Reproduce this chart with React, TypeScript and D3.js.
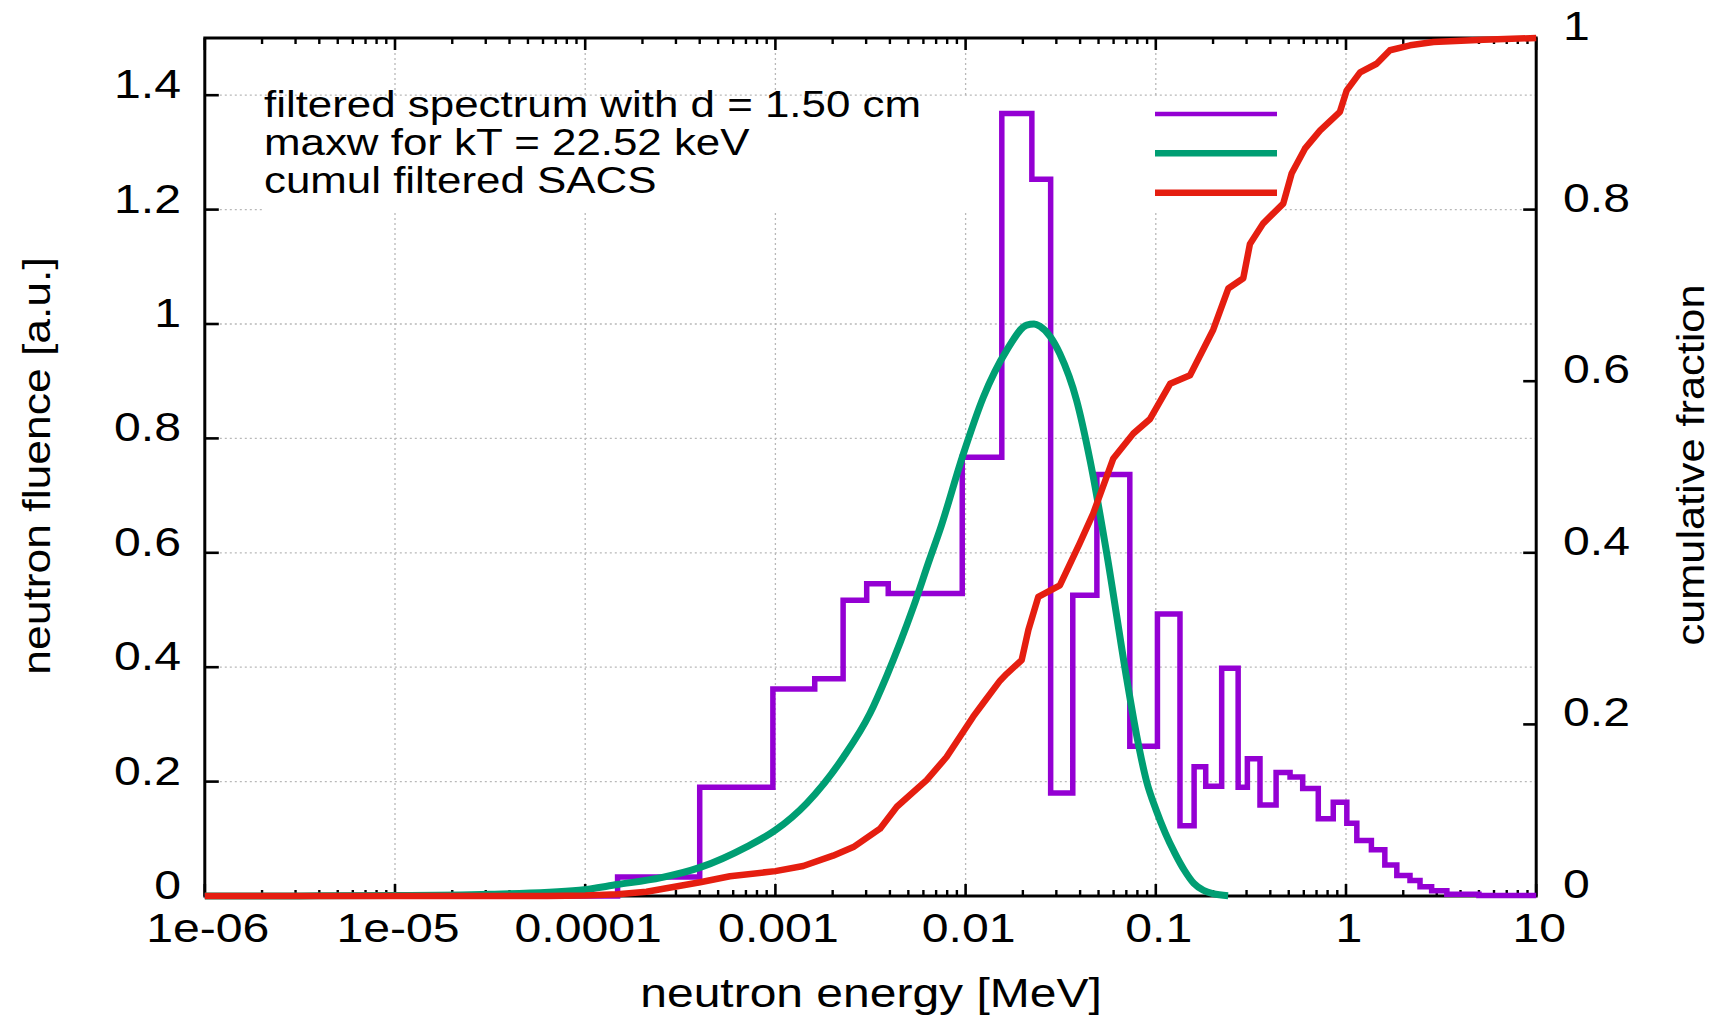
import React from "react";
import * as d3 from "d3";

// ---------- data ----------
// filtered spectrum: histogram bin edges [MeV] and fluence [a.u.]
const binEdges = [1e-6, 1.48e-4, 4.0e-4, 9.7e-4, 1.61e-3, 2.27e-3, 3.02e-3, 3.92e-3, 9.6e-3, 0.0155, 0.0223, 0.028, 0.0366, 0.049, 0.073, 0.102, 0.134, 0.159, 0.183, 0.222, 0.271, 0.303, 0.353, 0.429, 0.508, 0.592, 0.715, 0.857, 1.01, 1.14, 1.36, 1.6, 1.85, 2.17, 2.45, 2.82, 3.39, 5.0, 10];
const fluence = [0, 0.033, 0.19, 0.362, 0.38, 0.517, 0.546, 0.529, 0.767, 1.368, 1.253, 0.18, 0.526, 0.737, 0.262, 0.493, 0.123, 0.226, 0.192, 0.398, 0.19, 0.24, 0.159, 0.216, 0.208, 0.188, 0.135, 0.164, 0.127, 0.097, 0.081, 0.054, 0.036, 0.027, 0.016, 0.009, 0.003, 0.001];

// maxwellian for kT = 22.52 keV
const maxwE = [1e-6, 3.16e-6, 1e-5, 3.16e-5, 9.3e-5, 1.48e-4, 2.51e-4, 4.02e-4, 7.06e-4, 1.0e-3, 1.46e-3, 2.28e-3, 3.14e-3, 3.85e-3, 5.31e-3, 6.49e-3, 7.33e-3, 9.73e-3, 0.01239, 0.01644, 0.02094, 0.0229, 0.0246, 0.0313, 0.0383, 0.0451, 0.0552, 0.0703, 0.0794, 0.0895, 0.1005, 0.1122, 0.1259, 0.1413, 0.1585, 0.1778, 0.1995, 0.24];
const maxwVal = [0, 0.0002, 0.0007, 0.003, 0.01, 0.02, 0.032, 0.05, 0.086, 0.115, 0.162, 0.243, 0.319, 0.385, 0.505, 0.59, 0.64, 0.773, 0.872, 0.954, 0.998, 1.0, 0.996, 0.948, 0.867, 0.762, 0.599, 0.38, 0.28, 0.2, 0.15, 0.11, 0.075, 0.045, 0.022, 0.01, 0.004, 0.0005];

// cumulative filtered SACS (right axis)
const cumulE = [1e-6, 6.31e-5, 1e-4, 1.48e-4, 2.1e-4, 4.02e-4, 5.77e-4, 1.0e-3, 1.4e-3, 2.01e-3, 2.57e-3, 3.55e-3, 4.35e-3, 6.24e-3, 7.94e-3, 0.01096, 0.01239, 0.01517, 0.01644, 0.01972, 0.02138, 0.0241, 0.0313, 0.0398, 0.0469, 0.0598, 0.0762, 0.0933, 0.1189, 0.1514, 0.2004, 0.2404, 0.2884, 0.3126, 0.3673, 0.4677, 0.5176, 0.6081, 0.7295, 0.929, 1.009, 1.186, 1.449, 1.702, 2.173, 2.884, 5.27, 10];
const cumulVal = [0, 0, 0.0005, 0.002, 0.005, 0.016, 0.023, 0.029, 0.035, 0.047, 0.057, 0.0785, 0.104, 0.135, 0.162, 0.209, 0.225, 0.251, 0.259, 0.275, 0.31, 0.3485, 0.362, 0.411, 0.446, 0.51, 0.539, 0.556, 0.597, 0.607, 0.66, 0.708, 0.72, 0.76, 0.784, 0.807, 0.842, 0.871, 0.892, 0.914, 0.939, 0.96, 0.97, 0.9857, 0.9915, 0.9953, 0.998, 1.0];

const xTickValues = [1e-6, 1e-5, 1e-4, 1e-3, 1e-2, 1e-1, 1, 10];
const xTickLabels = ["1e-06", "1e-05", "0.0001", "0.001", "0.01", "0.1", "1", "10"];
const yTickValues = [0, 0.2, 0.4, 0.6, 0.8, 1, 1.2, 1.4];
const yTickLabels = ["0", "0.2", "0.4", "0.6", "0.8", "1", "1.2", "1.4"];
const y2TickValues = [0, 0.2, 0.4, 0.6, 0.8, 1];
const y2TickLabels = ["0", "0.2", "0.4", "0.6", "0.8", "1"];

const keyLabels = ["filtered spectrum with d = 1.50 cm", "maxw for kT = 22.52 keV", "cumul filtered SACS"];
const colors = ["#9400d3", "#009e73", "#e51e10"];

// ---------- layout ----------
const W = 1717, H = 1015;
const L = 204.8, R = 1536.2, T = 38, B = 896;
const FONT = "'Liberation Sans', Arial, Helvetica, sans-serif";

export default function App() {
  const x = d3.scaleLog().domain([1e-6, 10]).range([L, R]);
  const y = d3.scaleLinear().domain([0, 1.5]).range([B, T]);
  const y2 = d3.scaleLinear().domain([0, 1]).range([B, T]);

  const minor: number[] = [];
  for (let k = -6; k <= 0; k++) for (let m = 2; m <= 9; m++) minor.push(m * Math.pow(10, k));

  const histPts: [number, number][] = binEdges.map((e, i) => [e, fluence[Math.min(i, fluence.length - 1)]]);
  const histPath = d3.line<[number, number]>().x(d => x(d[0])).y(d => y(d[1])).curve(d3.curveStepAfter)(histPts) || "";
  const maxwPath = d3.line<number>().x((_, i) => x(maxwE[i])).y(d => y(d)).curve(d3.curveMonotoneX)(maxwVal) || "";
  const cumulPath = d3.line<number>().x((_, i) => x(cumulE[i])).y(d => y2(d)).curve(d3.curveLinear)(cumulVal) || "";

  const gridColor = "#b8b8b8";
  const keyBaselines = [116.7, 155, 193.3];
  const sampleY = [114, 153.3, 192.7];
  const sampleW = [4.5, 6.5, 6.5];

  return (
    <svg width={W} height={H} style={{ position: "absolute", left: 0, top: 0, background: "#fff" }} fontFamily={FONT}>
      <rect x={0} y={0} width={W} height={H} fill="#fff" />
      {/* grid */}
      {xTickValues.slice(1, -1).map((v, i) => (
        <line key={"gx" + i} x1={x(v)} x2={x(v)} y1={T} y2={B} stroke={gridColor} strokeWidth={1.3} strokeDasharray="2,3" />
      ))}
      {yTickValues.slice(1).map((v, i) => (
        <line key={"gy" + i} x1={L} x2={R} y1={y(v)} y2={y(v)} stroke={gridColor} strokeWidth={1.3} strokeDasharray="2,3" />
      ))}
      {/* key background */}
      <rect x={262} y={96.5} width={1021} height={114.5} fill="#fff" />

      {/* border */}
      <rect x={L} y={T} width={R - L} height={B - T} fill="none" stroke="#000" strokeWidth={3} />
      {/* x ticks bottom & top */}
      {xTickValues.map((v, i) => (
        <g key={"xt" + i}>
          <line x1={x(v)} x2={x(v)} y1={B} y2={B - 12} stroke="#000" strokeWidth={2.6} />
          <line x1={x(v)} x2={x(v)} y1={T} y2={T + 12} stroke="#000" strokeWidth={2.6} />
        </g>
      ))}
      {minor.map((v, i) => (
        <g key={"xm" + i}>
          <line x1={x(v)} x2={x(v)} y1={B} y2={B - 6} stroke="#000" strokeWidth={2.4} />
          <line x1={x(v)} x2={x(v)} y1={T} y2={T + 6} stroke="#000" strokeWidth={2.4} />
        </g>
      ))}
      {/* y ticks left */}
      {yTickValues.map((v, i) => (
        <line key={"yt" + i} x1={L} x2={L + 14} y1={y(v)} y2={y(v)} stroke="#000" strokeWidth={2.6} />
      ))}
      {/* y2 ticks right */}
      {y2TickValues.map((v, i) => (
        <line key={"y2t" + i} x1={R} x2={R - 13} y1={y2(v)} y2={y2(v)} stroke="#000" strokeWidth={2.6} />
      ))}

      {/* data */}
      <path d={histPath} fill="none" stroke={colors[0]} strokeWidth={5.5} strokeLinejoin="miter" />
      <path d={maxwPath} fill="none" stroke={colors[1]} strokeWidth={7} strokeLinejoin="round" />
      <path d={cumulPath} fill="none" stroke={colors[2]} strokeWidth={6.5} strokeLinejoin="round" />

      {/* tick labels */}
      {xTickValues.map((v, i) => (
        <text key={"xl" + i} transform={`translate(${x(v) + 3},942) scale(1.19,1)`} textAnchor="middle" fontSize={40.5} fill="#000">{xTickLabels[i]}</text>
      ))}
      {yTickValues.map((v, i) => (
        <text key={"yl" + i} transform={`translate(181,${y(v) + 3}) scale(1.19,1)`} textAnchor="end" fontSize={40.5} fill="#000">{yTickLabels[i]}</text>
      ))}
      {y2TickValues.map((v, i) => (
        <text key={"y2l" + i} transform={`translate(1563,${y2(v) + 2}) scale(1.19,1)`} textAnchor="start" fontSize={40.5} fill="#000">{y2TickLabels[i]}</text>
      ))}

      {/* axis labels */}
      <text transform="translate(871,1007) scale(1.2,1)" textAnchor="middle" fontSize={40} fill="#000">neutron energy [MeV]</text>
      <text transform="translate(50,466) rotate(-90) scale(1.14,1)" textAnchor="middle" fontSize={39} fill="#000">neutron fluence [a.u.]</text>
      <text transform="translate(1704,465) rotate(-90) scale(1.14,1)" textAnchor="middle" fontSize={38} fill="#000">cumulative fraction</text>

      {/* key */}
      {keyLabels.map((s, i) => (
        <g key={"k" + i}>
          <text transform={`translate(264,${keyBaselines[i]}) scale(1.17,1)`} fontSize={37.5} fill="#000">{s}</text>
          <line x1={1155} x2={1277} y1={sampleY[i]} y2={sampleY[i]} stroke={colors[i]} strokeWidth={sampleW[i]} />
        </g>
      ))}
    </svg>
  );
}
